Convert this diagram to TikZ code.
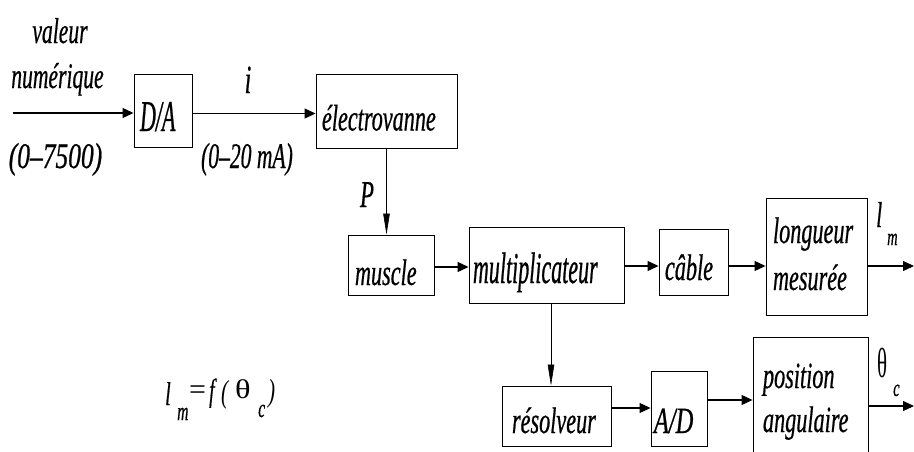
\documentclass[tikz,border=0pt]{standalone}
\usepackage{fontspec}
\setmainfont{Liberation Serif}
\newfontfamily\cf[FakeStretch=0.6,FakeBold=0.5]{Liberation Serif}
\newfontfamily\cft[FakeStretch=0.5,FakeBold=0.5]{Liberation Serif}
\newfontfamily\rf{Liberation Serif}
\usetikzlibrary{arrows.meta,calc}
\newcommand\fs[1]{\fontsize{#1}{#1}\selectfont}
\newcommand\bt[3]{\raisebox{#1}[0pt][0pt]{\makebox[#2][l]{#3}}}
\begin{document}
\begin{tikzpicture}[x=1pt,y=-1pt,
  blk/.style={draw, line width=0.9pt, inner sep=0pt, font={\cf\itshape\fs{37}}},
  lab/.style={inner sep=0pt, font={\cf\itshape\fs{36}}},
  harr/.style={line width=1.1pt, -{Triangle[length=11pt,width=10pt]}},
  varr/.style={line width=0.6pt, -{Triangle[length=21pt,width=6.5pt]}}]
\useasboundingbox (0,0) rectangle (914,451);
\clip (0,0) rectangle (914,451);

% blocks
\node[blk, minimum width=58pt, minimum height=73pt, font={\cft\itshape\fs{44}}] (da) at (163,110.5) {\bt{-20.5pt}{46pt}{D/A}};
\node[blk, minimum width=141pt, minimum height=74pt] (ev) at (386.5,111) {\bt{-19.5pt}{129pt}{électrovanne}};
\node[blk, minimum width=86pt, minimum height=60pt] (mus) at (391,265) {\bt{-20pt}{72pt}{muscle}};
\node[blk, minimum width=155pt, minimum height=76pt, font={\cft\itshape\fs{44}}] (mult) at (546.5,265) {\bt{-18pt}{147pt}{multiplicateur}};
\node[blk, minimum width=69pt, minimum height=66pt] (cab) at (693.5,262) {\bt{-18pt}{57pt}{câble}};
\node[blk, minimum width=101pt, minimum height=117pt] (lm) at (816.5,256.5) {\bt{13.5pt}{87pt}{\begin{tabular}[t]{@{}l@{}}longueur\\[10pt]mesurée\end{tabular}}};
\node[blk, minimum width=109pt, minimum height=60pt] (res) at (556.5,416) {\bt{-17pt}{89pt}{résolveur}};
\node[blk, minimum width=56pt, minimum height=75pt] (ad) at (679,408.5) {\bt{-24.5pt}{50pt}{\scalebox{1.1}[1]{A/D}}};
\node[blk, minimum width=115pt, minimum height=138pt] (pos) at (810.5,406) {\bt{18pt}{95pt}{\begin{tabular}[t]{@{}l@{}}position\\[7pt]angulaire\end{tabular}}};

% labels
\node[lab, anchor=base] (val) at (60,43) {valeur};
\node[lab, anchor=base] (num) at (57.5,88) {numérique};
\node[lab, anchor=base] (r1) at (55.5,168) {\scalebox{1.18}[1]{(0–7500)}};
\node[lab, anchor=base] (ilab) at (248,93) {\fs{40}i};
\node[lab, anchor=base] (r2) at (247,168) {(0–20 mA)};
\node[lab, anchor=base] (plab) at (367,207) {\fs{38}P};

\node[inner sep=0pt, anchor=base west, font={\cf\itshape}] (lmlab) at (876,227) {\rlap{\fs{36}l}\rlap{\hspace*{11pt}\raisebox{-18pt}{\fs{24}m}}\hspace*{22pt}};
\node[inner sep=0pt, anchor=base west, font={\rf\upshape}] (thlab) at (877,377) {\rlap{\scalebox{0.5}[1]{\fs{42}θ}}\rlap{\hspace*{16pt}\raisebox{-19pt}{\cf\itshape\fs{24}c}}\hspace*{23pt}};

\node[inner sep=0pt, anchor=base west, font={\cf\itshape}] (form) at (165,405) {%
\rlap{\fs{33}l}%
\rlap{\hspace*{12pt}\raisebox{-15pt}{\fs{26}m}}%
\rlap{\hspace*{24pt}\raisebox{5.5pt}{\rf\upshape\fs{30}=}}%
\rlap{\hspace*{44pt}\raisebox{4pt}{\fs{32}f}}%
\rlap{\hspace*{56pt}\raisebox{3pt}{\scalebox{0.66}[1]{\rf\itshape\fs{32}(}}}%
\rlap{\hspace*{70pt}\raisebox{7pt}{\scalebox{1.2}[1]{\rf\upshape\fs{27}θ}}}%
\rlap{\hspace*{93pt}\raisebox{-12pt}{\fs{26}c}}%
\rlap{\hspace*{103pt}\raisebox{4pt}{\scalebox{0.66}[1]{\rf\itshape\fs{32})}}}%
\hspace*{110pt}};

% connectors
\coordinate (in1) at (13,113);
\coordinate (out1) at (914,266);
\coordinate (out2) at (914,406);
\coordinate (a1) at ($(da.east)+(0,3)$);
\coordinate (a2) at ($(mus.east)+(0,2)$);
\coordinate (a3) at ($(mult.east)+(0,1)$);
\coordinate (a4) at ($(cab.east)+(0,4)$);
\coordinate (a5) at ($(lm.east)+(0,9.5)$);
\coordinate (a6) at ($(mult.south)+(4.5,0)$);
\coordinate (a7) at ($(res.east)+(0,-8)$);
\coordinate (a8) at ($(ad.east)+(0,-8.5)$);

\draw[harr] (in1) -- (in1 -| da.west);
\draw[harr] (a1) -- (a1 -| ev.west);
\draw[varr] (ev.south) -- (ev.south |- mus.north);
\draw[harr] (a2) -- (a2 -| mult.west);
\draw[harr] (a3) -- (a3 -| cab.west);
\draw[harr] (a4) -- (a4 -| lm.west);
\draw[harr] (a5) -- (out1);
\draw[varr] (a6) -- (a6 |- res.north);
\draw[harr] (a7) -- (a7 -| ad.west);
\draw[harr] (a8) -- (a8 -| pos.west);
\draw[harr] (pos.east) -- (out2);
\end{tikzpicture}
\end{document}
